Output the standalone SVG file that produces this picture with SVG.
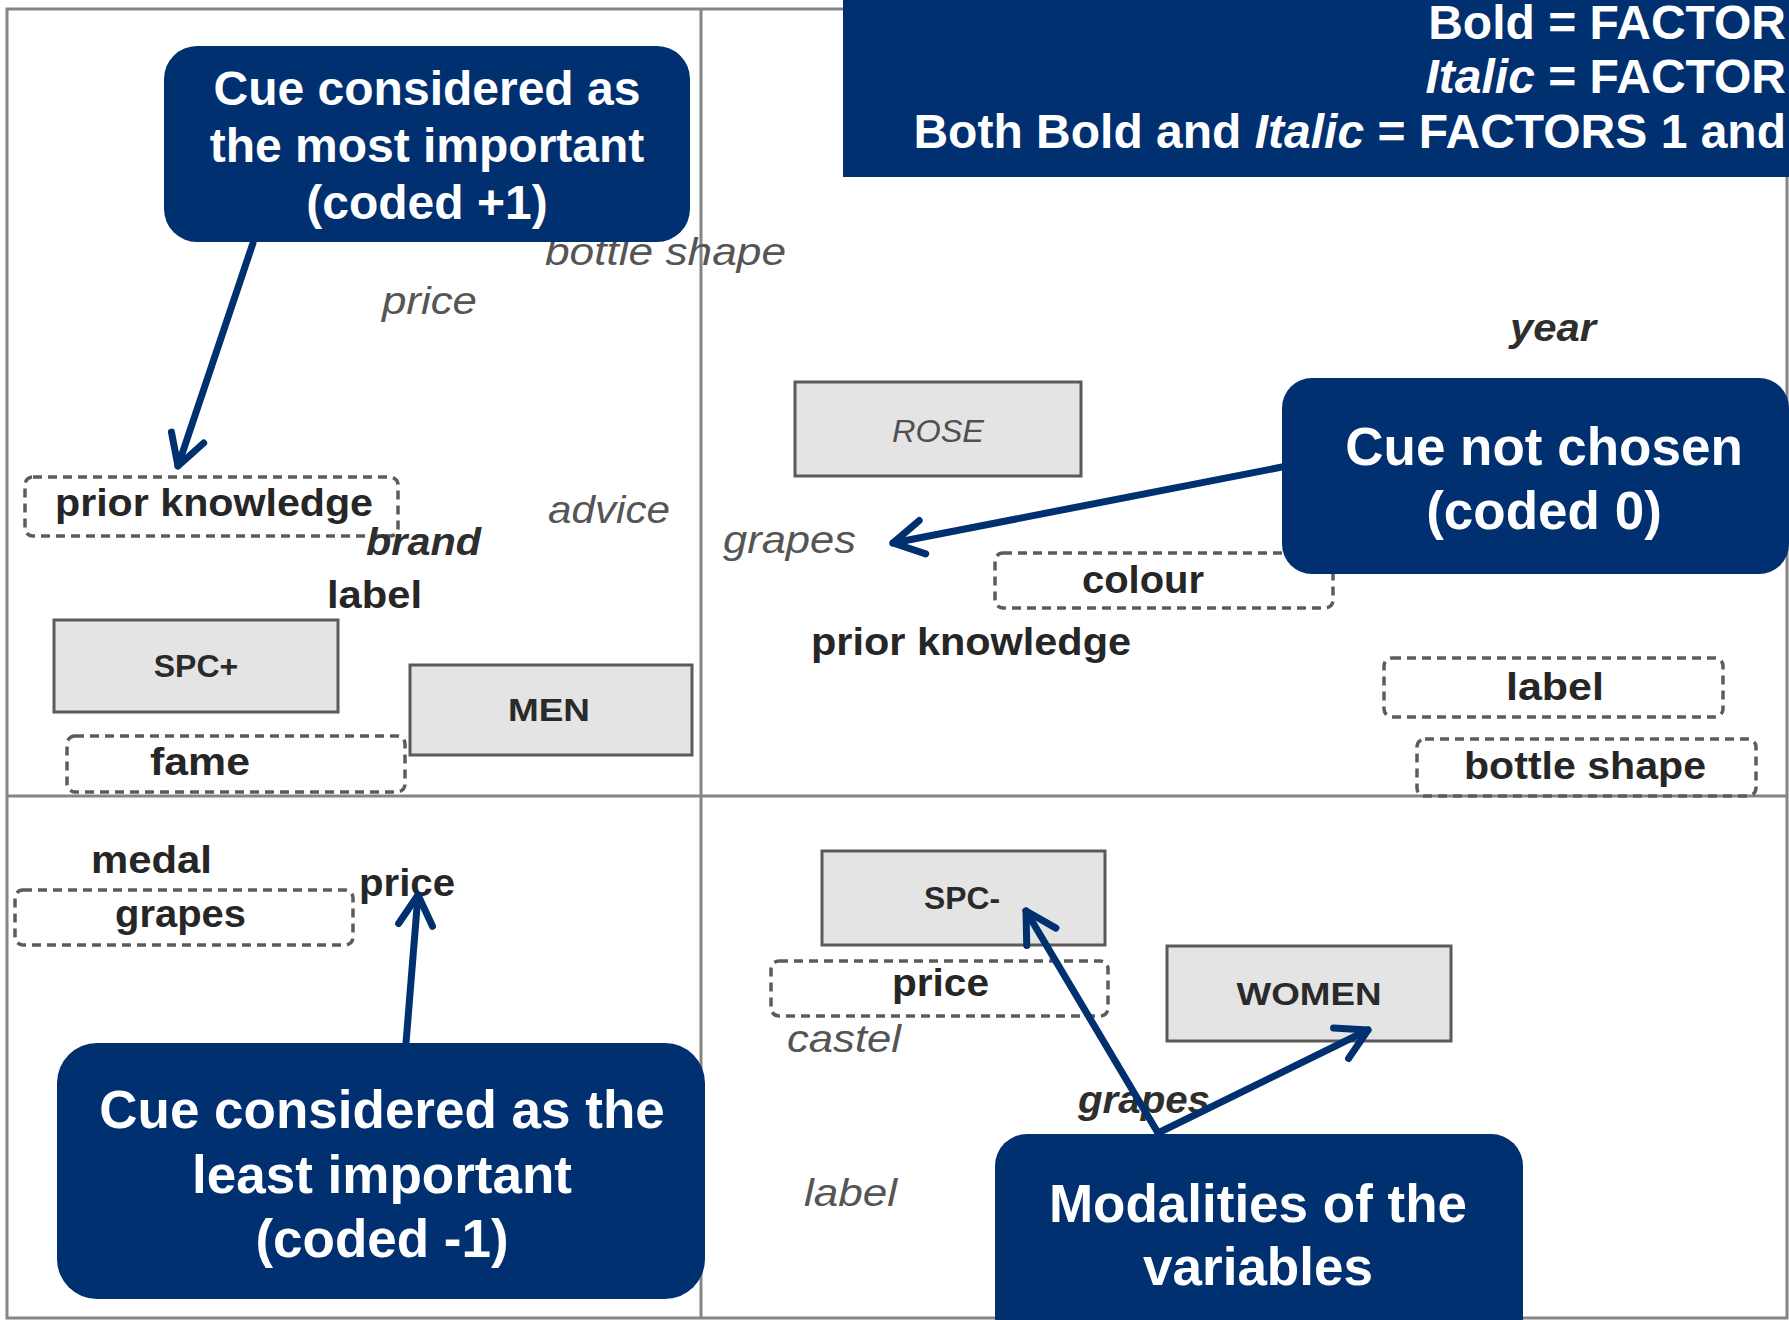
<svg xmlns="http://www.w3.org/2000/svg" width="1789" height="1320" viewBox="0 0 1789 1320">
<style>
  .frame{stroke:#858585;stroke-width:3;fill:none}
  .box{fill:#e4e4e4;stroke:#5a5a5a;stroke-width:3}
  .dash{fill:none;stroke:#5c5c5c;stroke-width:3.5;stroke-dasharray:9 6;}
  .lb{font-family:"Liberation Sans",Arial,sans-serif;font-size:38px;font-weight:bold;fill:#262626}
  .li{font-family:"Liberation Sans",Arial,sans-serif;font-size:38px;font-style:italic;fill:#555555}
  .lbi{font-family:"Liberation Sans",Arial,sans-serif;font-size:38px;font-style:italic;font-weight:bold;fill:#2e2e2e}
  .bx{font-family:"Liberation Sans",Arial,sans-serif;font-size:32px;font-weight:bold;fill:#2a2a2a;text-anchor:middle}
  .bxi{font-family:"Liberation Sans",Arial,sans-serif;font-size:32px;font-style:italic;fill:#505050;text-anchor:middle}
  .call{fill:#00306F}
  .ct{font-family:"Liberation Sans",Arial,sans-serif;font-weight:bold;fill:#ffffff;text-anchor:middle}
  .conn{stroke:#00306F;stroke-width:7;fill:none;stroke-linecap:round}
</style>
<defs>
  <marker id="vh" markerUnits="userSpaceOnUse" viewBox="0 0 40 40" markerWidth="40" markerHeight="40" refX="36" refY="20" orient="auto" overflow="visible">
    <path d="M6 3 L36 20 L6 37" fill="none" stroke="#00306F" stroke-width="7" stroke-linecap="round" stroke-linejoin="round"/>
  </marker>
</defs>
<rect width="1789" height="1320" fill="#ffffff"/>

<g id="plot-frame">
  <rect class="frame" x="7" y="9" width="1780" height="1309"/>
  <line class="frame" x1="701" y1="9" x2="701" y2="1318"/>
  <line class="frame" x1="7" y1="796" x2="1787" y2="796"/>
</g>

<!-- Quadrant 1 -->
<g id="q1-bottle-shape"><text class="li" x="545" y="265" textLength="241" lengthAdjust="spacingAndGlyphs">bottle shape</text></g>
<g id="q1-price"><text class="li" x="382" y="314" textLength="95" lengthAdjust="spacingAndGlyphs">price</text></g>
<g id="q1-prior-knowledge">
  <rect class="dash" x="25" y="477" width="373" height="59" rx="8"/>
  <text class="lb" x="55" y="516" textLength="318" lengthAdjust="spacingAndGlyphs">prior knowledge</text>
</g>
<g id="q1-advice"><text class="li" x="548" y="523" textLength="122" lengthAdjust="spacingAndGlyphs">advice</text></g>
<g id="q1-brand"><text class="lbi" x="366" y="555" textLength="115" lengthAdjust="spacingAndGlyphs">brand</text></g>
<g id="q1-label"><text class="lb" x="327" y="608" textLength="95" lengthAdjust="spacingAndGlyphs">label</text></g>
<g id="q1-spc-plus">
  <rect class="box" x="54" y="620" width="284" height="92"/>
  <text class="bx" x="196" y="677">SPC+</text>
</g>
<g id="q1-men">
  <rect class="box" x="410" y="665" width="282" height="90"/>
  <text class="bx" x="549" y="721" textLength="82" lengthAdjust="spacingAndGlyphs">MEN</text>
</g>
<g id="q1-fame">
  <rect class="dash" x="67" y="736" width="338" height="56" rx="8"/>
  <text class="lb" x="150" y="775" textLength="100" lengthAdjust="spacingAndGlyphs">fame</text>
</g>

<!-- Quadrant 2 -->
<g id="q2-year"><text class="lbi" x="1510" y="341" textLength="86" lengthAdjust="spacingAndGlyphs">year</text></g>
<g id="q2-rose">
  <rect class="box" x="795" y="382" width="286" height="94"/>
  <text class="bxi" x="938" y="442" textLength="92" lengthAdjust="spacingAndGlyphs">ROSE</text>
</g>
<g id="q2-grapes"><text class="li" x="723" y="553" textLength="133" lengthAdjust="spacingAndGlyphs">grapes</text></g>
<g id="q2-colour">
  <rect class="dash" x="995" y="553" width="338" height="55" rx="8"/>
  <text class="lb" x="1082" y="593" textLength="122" lengthAdjust="spacingAndGlyphs">colour</text>
</g>
<g id="q2-prior-knowledge"><text class="lb" x="811" y="655" textLength="320" lengthAdjust="spacingAndGlyphs">prior knowledge</text></g>
<g id="q2-label">
  <rect class="dash" x="1384" y="658" width="339" height="59" rx="8"/>
  <text class="lb" x="1506" y="700" textLength="98" lengthAdjust="spacingAndGlyphs">label</text>
</g>
<g id="q2-bottle-shape">
  <rect class="dash" x="1417" y="739" width="339" height="57" rx="8"/>
  <text class="lb" x="1464" y="779" textLength="242" lengthAdjust="spacingAndGlyphs">bottle shape</text>
</g>

<!-- Quadrant 3 -->
<g id="q3-medal"><text class="lb" x="91" y="873" textLength="121" lengthAdjust="spacingAndGlyphs">medal</text></g>
<g id="q3-grapes">
  <rect class="dash" x="15" y="890" width="338" height="55" rx="8"/>
  <text class="lb" x="115" y="927" textLength="131" lengthAdjust="spacingAndGlyphs">grapes</text>
</g>
<g id="q3-price"><text class="lb" x="359" y="896" textLength="96" lengthAdjust="spacingAndGlyphs">price</text></g>

<!-- Quadrant 4 -->
<g id="q4-spc-minus">
  <rect class="box" x="822" y="851" width="283" height="94"/>
  <text class="bx" x="962" y="909" textLength="76" lengthAdjust="spacingAndGlyphs">SPC-</text>
</g>
<g id="q4-price">
  <rect class="dash" x="771" y="961" width="337" height="55" rx="8"/>
  <text class="lb" x="892" y="996" textLength="97" lengthAdjust="spacingAndGlyphs">price</text>
</g>
<g id="q4-castel"><text class="li" x="787" y="1052" textLength="114" lengthAdjust="spacingAndGlyphs">castel</text></g>
<g id="q4-women">
  <rect class="box" x="1167" y="946" width="284" height="95"/>
  <text class="bx" x="1309" y="1005" textLength="145" lengthAdjust="spacingAndGlyphs">WOMEN</text>
</g>
<g id="q4-grapes"><text class="lbi" x="1078" y="1113" textLength="132" lengthAdjust="spacingAndGlyphs">grapes</text></g>
<g id="q4-label"><text class="li" x="804" y="1206" textLength="93" lengthAdjust="spacingAndGlyphs">label</text></g>

<!-- Legend -->
<g id="legend">
  <rect class="call" x="843" y="-10" width="960" height="187"/>
  <text class="ct" style="text-anchor:end" font-size="48" x="1786" y="39">Bold = FACTOR</text>
  <text class="ct" style="text-anchor:end" font-size="48" x="1786" y="93"><tspan font-style="italic">Italic</tspan> = FACTOR</text>
  <text class="ct" style="text-anchor:end" font-size="48" x="1786" y="148">Both Bold and <tspan font-style="italic">Italic</tspan> = FACTORS 1 and</text>
</g>

<!-- Connectors -->
<g id="connectors">
  <line class="conn" x1="253" y1="243" x2="178" y2="466" marker-end="url(#vh)"/>
  <line class="conn" x1="1282" y1="467" x2="893" y2="543" marker-end="url(#vh)"/>
  <line class="conn" x1="406" y1="1043" x2="418" y2="895" marker-end="url(#vh)"/>
  <line class="conn" x1="1158" y1="1133" x2="1026" y2="911" marker-end="url(#vh)"/>
  <line class="conn" x1="1158" y1="1133" x2="1368" y2="1030" marker-end="url(#vh)"/>
</g>

<!-- Callouts -->
<g id="callout-most-important">
  <rect class="call" x="164" y="46" width="526" height="196" rx="33"/>
  <text class="ct" font-size="48" x="427" y="105">Cue considered as</text>
  <text class="ct" font-size="48" x="427" y="162">the most important</text>
  <text class="ct" font-size="48" x="427" y="219">(coded +1)</text>
</g>
<g id="callout-not-chosen">
  <rect class="call" x="1282" y="378" width="507" height="196" rx="30"/>
  <text class="ct" font-size="53" x="1544" y="465">Cue not chosen</text>
  <text class="ct" font-size="53" x="1544" y="529">(coded 0)</text>
</g>
<g id="callout-least-important">
  <rect class="call" x="57" y="1043" width="648" height="256" rx="40"/>
  <text class="ct" font-size="53" x="382" y="1128">Cue considered as the</text>
  <text class="ct" font-size="53" x="382" y="1193">least important</text>
  <text class="ct" font-size="53" x="382" y="1257">(coded -1)</text>
</g>
<g id="callout-modalities">
  <rect class="call" x="995" y="1134" width="528" height="215" rx="32"/>
  <text class="ct" font-size="53" x="1258" y="1222">Modalities of the</text>
  <text class="ct" font-size="53" x="1258" y="1285">variables</text>
</g>
</svg>
